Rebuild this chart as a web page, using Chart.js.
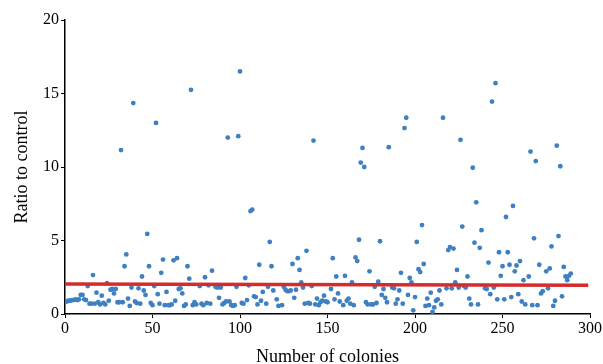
<!DOCTYPE html>
<html>
<head>
<meta charset="utf-8">
<script src="https://cdn.jsdelivr.net/npm/chart.js@4/dist/chart.umd.min.js"></script>
<style>
  html, body { margin: 0; padding: 0; background: #fff; }
  #wrap { width: 603px; height: 364px; }
</style>
</head>
<body>
<div id="wrap"><canvas id="chart"></canvas></div>
<script>
// colony number (x) and ratio to control (y)
const colonyX = [
  1, 2, 3, 4, 5, 6, 7, 8, 9, 10, 11, 12, 13, 14, 15, 16, 17, 18, 19, 20,
  21, 22, 23, 24, 25, 26, 27, 28, 29, 30, 31, 32, 33, 34, 35, 36, 37, 38, 39, 40,
  41, 42, 43, 44, 45, 46, 47, 48, 49, 50, 51, 52, 53, 54, 55, 56, 57, 58, 59, 60,
  61, 62, 63, 64, 65, 66, 67, 68, 69, 70, 71, 72, 73, 74, 75, 77, 78, 79, 80, 81,
  82, 83, 84, 86, 87, 88, 89, 90, 91, 92, 93, 94, 95, 96, 97, 98, 99, 100, 101, 102,
  103, 104, 105, 106, 107, 108, 109, 110, 111, 112, 113, 115, 116, 117, 118, 119, 121, 122, 124, 125,
  126, 127, 128, 129, 130, 131, 132, 133, 134, 135, 136, 137, 138, 139, 140, 141, 142, 143, 144, 145,
  146, 147, 148, 149, 150, 152, 153, 154, 155, 156, 157, 159, 160, 161, 162, 163, 164, 165, 166, 167,
  168, 169, 170, 171, 172, 173, 174, 175, 176, 177, 178, 179, 180, 181, 182, 183, 184, 185, 187, 188,
  189, 190, 191, 192, 193, 194, 195, 196, 197, 198, 199, 200, 201, 202, 203, 204, 205, 206, 207, 208,
  209, 210, 211, 212, 213, 214, 215, 216, 218, 219, 220, 221, 222, 223, 224, 225, 226, 227, 228, 229,
  230, 231, 232, 233, 234, 235, 236, 237, 238, 240, 241, 242, 243, 244, 245, 246, 247, 248, 249, 250,
  251, 252, 253, 254, 255, 256, 257, 258, 259, 260, 261, 262, 263, 265, 266, 267, 268, 269, 270, 271,
  272, 273, 275, 276, 277, 278, 279, 280, 281, 282, 283, 284, 285, 286, 287, 288, 289
];
const ratioY = [
  0.85, 0.9, 0.9, 0.95, 0.95, 1.0, 0.95, 1.0, 1.3, 1.3, 1.0, 0.95, 1.9, 0.7, 0.7, 2.65, 0.7, 1.45, 0.8, 0.65,
  1.25, 0.75, 0.65, 2.1, 0.9, 1.65, 1.7, 1.4, 1.7, 0.8, 0.8, 11.15, 0.8, 3.25, 4.05, 1.05, 0.55, 1.8, 14.35, 0.85,
  0.75, 1.75, 0.7, 2.55, 1.6, 1.3, 5.45, 3.25, 0.75, 0.6, 1.9, 13.0, 1.35, 0.7, 2.8, 3.7, 0.6, 1.5, 0.6, 0.6,
  0.65, 3.65, 0.9, 3.8, 1.7, 1.75, 1.4, 0.55, 0.65, 3.25, 2.4, 15.25, 0.6, 0.8, 0.65, 1.9, 0.7, 0.6, 2.5, 0.75,
  1.95, 0.7, 2.95, 1.85, 1.8, 1.1, 1.8, 0.65, 0.75, 0.85, 12.0, 0.85, 0.6, 0.55, 0.6, 1.85, 12.1, 16.5, 0.75, 0.7,
  2.45, 0.95, 1.95, 7.0, 7.1, 1.2, 1.15, 0.65, 3.35, 0.9, 1.5, 0.7, 1.85, 4.9, 3.25, 1.6, 1.0, 0.55, 0.6, 1.85,
  1.65, 1.55, 1.55, 1.6, 3.4, 1.1, 1.65, 3.8, 3.0, 2.15, 1.8, 0.7, 4.3, 0.75, 0.7, 1.9, 11.8, 0.65, 1.05, 0.6,
  0.8, 0.9, 1.25, 0.85, 0.8, 1.7, 3.8, 1.0, 2.55, 1.4, 0.85, 0.6, 2.6, 0.9, 1.05, 0.7, 2.15, 0.6, 3.85, 3.6,
  5.05, 10.3, 11.3, 10.0, 0.8, 0.65, 2.9, 0.65, 0.65, 1.85, 0.75, 2.2, 4.95, 1.3, 1.7, 1.1, 0.8, 11.35, 1.8, 1.75,
  0.7, 1.0, 1.6, 2.8, 0.7, 12.65, 13.35, 1.3, 2.45, 2.15, 0.25, 1.15, 4.9, 3.05, 2.85, 6.05, 3.4, 0.55, 1.05, 0.6,
  1.45, 0.15, 0.45, 0.9, 1.0, 1.6, 0.65, 13.35, 1.75, 4.35, 4.55, 1.75, 4.45, 2.15, 3.0, 1.8, 11.85, 5.95, 1.9, 1.8,
  2.55, 1.05, 0.65, 9.95, 4.85, 7.6, 0.65, 4.5, 5.7, 1.75, 1.7, 3.5, 1.35, 14.45, 1.8, 15.7, 1.0, 4.2, 2.6, 3.25,
  1.0, 6.6, 4.2, 3.35, 1.15, 7.35, 2.9, 3.3, 1.35, 3.6, 0.85, 2.3, 0.65, 2.55, 11.05, 0.6, 5.15, 10.4, 0.6, 3.35,
  1.4, 1.55, 2.9, 1.75, 3.1, 4.6, 0.55, 0.9, 11.45, 5.3, 10.05, 1.2, 3.2, 2.55, 2.3, 2.6, 2.75
];
// red reference line (start and end)
const lineX = [0, 299];
const lineY = [2.04, 1.95];

const xTicks = [0, 50, 100, 150, 200, 250, 300];
const yTicks = [0, 5, 10, 15, 20];

const points = colonyX.map((x, i) => ({ x: x, y: ratioY[i] }));
const linePts = lineX.map((x, i) => ({ x: x, y: lineY[i] }));

const serif = "'Liberation Serif', 'DejaVu Serif', serif";

new Chart(document.getElementById('chart'), {
  type: 'scatter',
  data: {
    datasets: [{
      type: 'line',
      data: linePts,
      borderColor: '#d52b2d',
      borderWidth: 3.5,
      pointRadius: 0,
      fill: false,
      order: 0
    }, {
      data: points,
      backgroundColor: '#3e80c2',
      borderWidth: 0,
      pointRadius: 2.4,
      order: 1
    }]
  },
  options: {
    responsive: true,
    maintainAspectRatio: false,
    animation: false,
    layout: { padding: { top: 20, right: 13, left: 0, bottom: 0 } },
    plugins: { legend: { display: false }, tooltip: { enabled: false } },
    scales: {
      x: {
        type: 'linear',
        min: 0, max: 300,
        afterBuildTicks: s => { s.ticks = xTicks.map(v => ({ value: v })); },
        afterFit: s => { s.height = 50; },
        border: { display: true, color: '#000', width: 1.5 },
        grid: { drawOnChartArea: false, drawTicks: true, tickLength: 4, color: '#000' },
        ticks: { color: '#000', padding: 1, maxRotation: 0, font: { family: serif, size: 16 } },
        title: {
          display: true, text: 'Number of colonies', color: '#000',
          padding: { top: 0, bottom: 0 },
          font: { family: serif, size: 18, lineHeight: 0.8 }
        }
      },
      y: {
        min: 0, max: 20,
        afterBuildTicks: s => { s.ticks = yTicks.map(v => ({ value: v })); },
        afterFit: s => { s.width = 65; },
        border: { display: true, color: '#000', width: 1.5 },
        grid: { drawOnChartArea: false, drawTicks: true, tickLength: 4, color: '#000' },
        ticks: { color: '#000', padding: 2, font: { family: serif, size: 16 } },
        title: {
          display: true, text: 'Ratio to control', color: '#000',
          padding: { top: 11, bottom: 0 },
          font: { family: serif, size: 18, lineHeight: 1.2 }
        }
      }
    }
  }
});
</script>
</body>
</html>
